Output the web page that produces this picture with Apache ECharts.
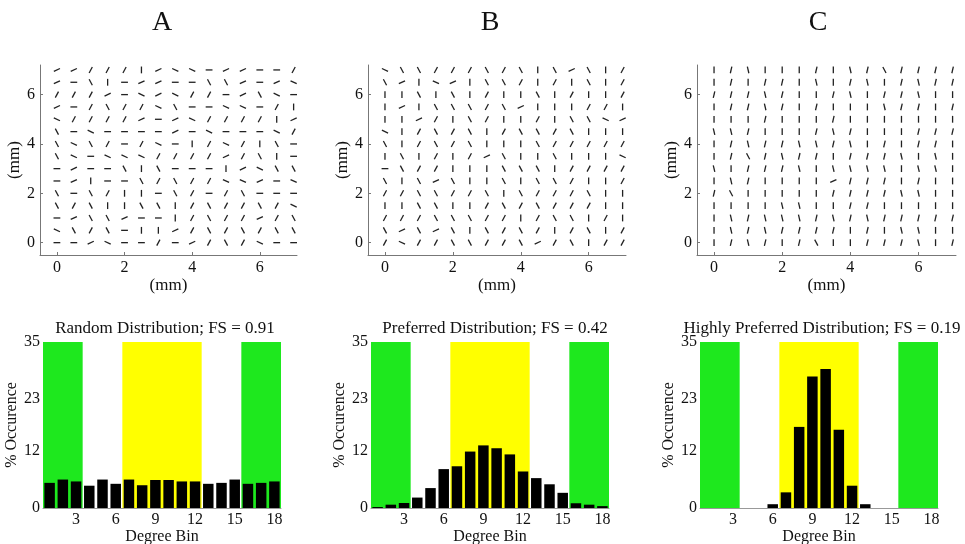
<!DOCTYPE html>
<html>
<head>
<meta charset="utf-8">
<script src="https://cdn.jsdelivr.net/npm/echarts@6/dist/echarts.min.js"></script>
<style>
  html, body { margin: 0; padding: 0; background: #fff; }
  #main { width: 965px; height: 544px; }
</style>
</head>
<body>
<div id="main"></div>
<script>
// grid positions of the orientation samples (mm)
var gridMm = [0, 0.5, 1, 1.5, 2, 2.5, 3, 3.5, 4, 4.5, 5, 5.5, 6, 6.5, 7];
// orientation codes -> angle on screen (deg)
var angleCode = { '-': 0, 'r': 25, '/': 62, 'p': 77, '|': 90, 'q': 103, 'b': 118, 'f': 155 };

// rows from top (7 mm) to bottom (0 mm)
var rowsA = [
  'rr///|rff-rr--/', 'r-b|-rr--bbr-rf', '///r-frf//-rbf-', 'r-/b//fb--ff-/|',
  'f////r-rf////|r', 'b-f----r-f---f/', 'bfb/-/f-|/f/|b-', 'bf-fff////r/b|-',
  '-r--b|b---|rfbb', '-r|--b/b//ffr-f', 'b-b/||-b/-/b---', 'b/b||bb|/b//b/f',
  '-rbbr--|/b//r/b', 'fb/b-||r/b/b/bb', '--rf--/-r/b/f--'
];
var rowsB = [
  'fbb///b/b|brb|/', 'br|fr|bb/|/|b|/', '||b|b|/||b|/||/', '|r|bbb/br|||//|',
  '||r/|b/||/|bbfr', 'f|/b/b|/bb/b|||', 'b|/b/b|||b/////', '|b|/|/rb||b|||f',
  '-b//|||bbb|////', 'b|brb||b|bb/||/', '//bb//b|b///b||', '||bb||/b/b///||',
  '///bbb//|/bb|/|', 'brbrb|b/b/|/b|/', '/f//bb//br/b|//'
];
var rowsC = [
  '|pq|||p|qpbpppp', '|p|pp|q|pq|pqpp', 'pppqp||pq|ppq||', '|ppqp|p|||qpp|p',
  '|||p|||p|||||||', 'qqp|||pqp|||ppp', '|pqppqqpq|p|pp|', '|pbpqpp|pppq|q|',
  'q|pppq|qqqq|qq|', '|qp||||rppp|p||', 'pb|||||ppppqq||', '||||qq||pp|||||',
  '|qpqqqpqpqppppp', '|qpqpppp|p|qq||', '|pqp|pb||pppq|p'
];

var letters = ['A', 'B', 'C'];
var histTitles = [
  'Random Distribution; FS = 0.91',
  'Preferred Distribution; FS = 0.42',
  'Highly Preferred Distribution; FS = 0.19'
];

var bins = [1, 2, 3, 4, 5, 6, 7, 8, 9, 10, 11, 12, 13, 14, 15, 16, 17, 18];
var occA = [5.3, 6.0, 5.6, 4.7, 6.0, 5.1, 6.0, 4.8, 5.9, 5.9, 5.6, 5.6, 5.1, 5.3, 6.0, 5.1, 5.3, 5.6];
var occB = [0.2, 0.7, 1.05, 2.2, 4.2, 8.2, 8.8, 11.9, 13.2, 12.6, 11.3, 7.7, 6.3, 5.0, 3.2, 1.0, 0.7, 0.4];
var occC = [0, 0, 0, 0, 0, 0.8, 3.3, 17.1, 27.7, 29.3, 16.5, 4.7, 0.8, 0, 0, 0, 0, 0];

var greenBands = [[0.5, 3.5], [15.5, 18.5]];
var yellowBands = [[6.5, 12.5]];

var mmTicks = [0, 2, 4, 6];
var binTicks = [3, 6, 9, 12, 15, 18];
var occTicks = [0, 12, 23, 35];

var FONT = 'Liberation Serif';
var INK = '#111';

var myChart = echarts.init(document.getElementById('main'));

function segData(rows) {
  var out = [];
  rows.forEach(function (row, i) {
    var y = gridMm[gridMm.length - 1 - i];
    for (var j = 0; j < row.length; j++) {
      out.push([gridMm[j], y, angleCode[row.charAt(j)]]);
    }
  });
  return out;
}

function bandData(bands) {
  return bands.map(function (b) { return [b[0], b[1]]; });
}

var topLeft = [40, 368, 697];
var topWidth = [257, 258, 259];
var botLeft = [43, 371, 700];
var letterX = [157, 485, 813];
var histTitleX = [160, 490, 817];
var rowsAll = [rowsA, rowsB, rowsC];
var occAll = [occA, occB, occC];

var grids = [], xAxes = [], yAxes = [], series = [], titles = [];

for (var k = 0; k < 3; k++) {
  // quiver-like panel
  grids.push({ left: topLeft[k], top: 65, width: topWidth[k], height: 190, outerBoundsMode: 'none' });
  xAxes.push({
    type: 'value', gridIndex: 2 * k, min: -0.5, max: 7.1,
    name: '(mm)', nameLocation: 'middle', nameGap: 21,
    nameTextStyle: { fontFamily: FONT, fontSize: 17, color: INK },
    axisLine: { show: true, onZero: false, lineStyle: { color: '#777', width: 1 } },
    axisTick: { show: true, inside: true, length: 3, customValues: mmTicks, lineStyle: { color: '#777' } },
    axisLabel: { customValues: mmTicks, fontFamily: FONT, fontSize: 16, color: INK, margin: 5 },
    splitLine: { show: false }
  });
  yAxes.push({
    type: 'value', gridIndex: 2 * k, min: -0.5, max: 7.2,
    name: '(mm)', nameLocation: 'middle', nameGap: 15, nameRotate: 90,
    nameTextStyle: { fontFamily: FONT, fontSize: 17, color: INK },
    axisLine: { show: true, onZero: false, lineStyle: { color: '#777', width: 1 } },
    axisTick: { show: true, inside: true, length: 3, customValues: mmTicks, lineStyle: { color: '#777' } },
    axisLabel: { customValues: mmTicks, fontFamily: FONT, fontSize: 16, color: INK, margin: 5 },
    splitLine: { show: false }
  });
  series.push({
    type: 'custom', xAxisIndex: 2 * k, yAxisIndex: 2 * k,
    data: segData(rowsAll[k]),
    encode: { x: 0, y: 1 },
    silent: true,
    renderItem: function (params, api) {
      var c = api.coord([api.value(0), api.value(1)]);
      var a = api.value(2) * Math.PI / 180;
      var h = 3.4;
      return {
        type: 'line',
        shape: { x1: c[0] - h * Math.cos(a), y1: c[1] + h * Math.sin(a), x2: c[0] + h * Math.cos(a), y2: c[1] - h * Math.sin(a) },
        style: { stroke: '#222', lineWidth: 1.3 }
      };
    }
  });
  titles.push({
    text: letters[k], left: letterX[k], top: 4, textAlign: 'center',
    textStyle: { fontFamily: FONT, fontSize: 28, fontWeight: 'normal', color: INK }
  });

  // histogram panel
  grids.push({ left: botLeft[k], top: 342, width: 238, height: 166, outerBoundsMode: 'none' });
  xAxes.push({
    type: 'value', gridIndex: 2 * k + 1, min: 0.5, max: 18.5,
    name: 'Degree Bin', nameLocation: 'middle', nameGap: 19,
    nameTextStyle: { fontFamily: FONT, fontSize: 16, color: INK },
    axisLine: { show: true, onZero: false, lineStyle: { color: '#999', width: 1 } },
    axisTick: { show: false },
    axisLabel: { customValues: binTicks, fontFamily: FONT, fontSize: 16, color: INK, margin: 4 },
    splitLine: { show: false }
  });
  yAxes.push({
    type: 'value', gridIndex: 2 * k + 1, min: 0, max: 35,
    name: '% Occurence', nameLocation: 'middle', nameGap: 17, nameRotate: 90,
    nameTextStyle: { fontFamily: FONT, fontSize: 16, color: INK },
    axisLine: { show: false, onZero: false },
    axisTick: { show: false },
    axisLabel: { customValues: occTicks, fontFamily: FONT, fontSize: 16, color: INK, margin: 3 },
    splitLine: { show: false }
  });
  [[greenBands, '#1ee81e'], [yellowBands, '#ffff00']].forEach(function (pair) {
    series.push({
      type: 'custom', xAxisIndex: 2 * k + 1, yAxisIndex: 2 * k + 1,
      data: bandData(pair[0]), encode: { x: [0, 1] }, z: 1, silent: true,
      renderItem: function (params, api) {
        var p0 = api.coord([api.value(0), occTicks[occTicks.length - 1]]);
        var p1 = api.coord([api.value(1), 0]);
        return {
          type: 'rect',
          shape: { x: p0[0], y: p0[1], width: p1[0] - p0[0], height: p1[1] - p0[1] },
          style: { fill: pair[1] }
        };
      }
    });
  });
  series.push({
    type: 'bar', xAxisIndex: 2 * k + 1, yAxisIndex: 2 * k + 1, z: 3,
    barWidth: 10.5, silent: true,
    itemStyle: { color: '#000' },
    data: bins.map(function (b, i) { return [b, occAll[k][i]]; })
  });
  titles.push({
    text: histTitles[k], left: histTitleX[k], top: 315, textAlign: 'center',
    textStyle: { fontFamily: FONT, fontSize: 17, fontWeight: 'normal', color: INK }
  });
}

var option = {
  animation: false,
  backgroundColor: '#fff',
  title: titles,
  grid: grids,
  xAxis: xAxes,
  yAxis: yAxes,
  series: series
};

myChart.setOption(option);
</script>
</body>
</html>
